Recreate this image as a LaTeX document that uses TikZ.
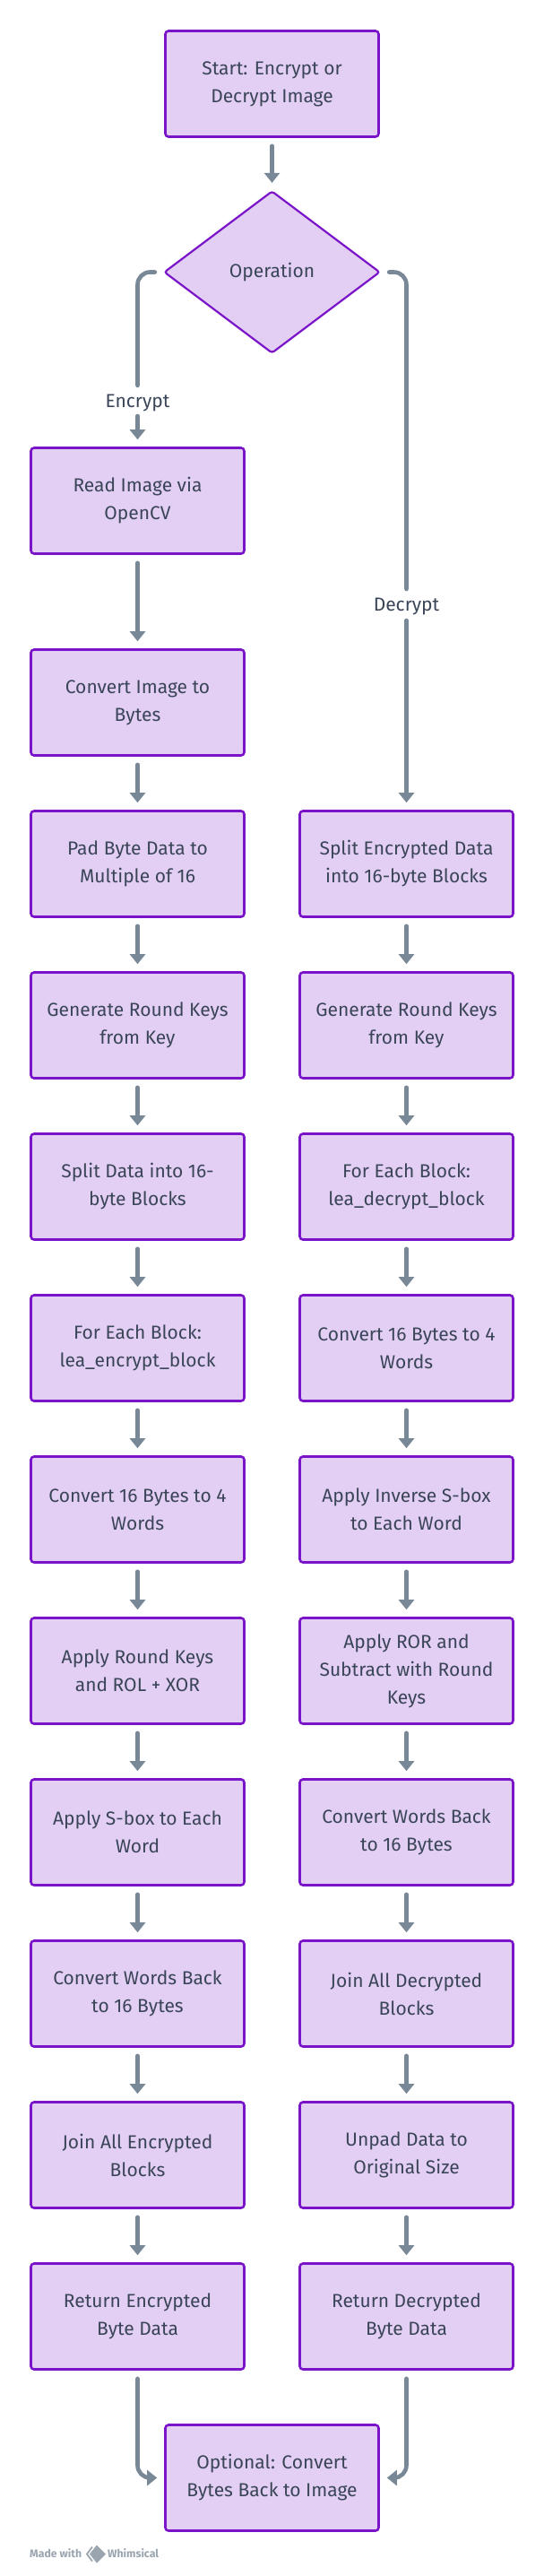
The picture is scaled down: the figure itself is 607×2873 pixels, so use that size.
\documentclass[tikz,border=0pt]{standalone}
\usepackage{fontspec}
\setmainfont{Fira Sans}
\usetikzlibrary{arrows.meta,shapes.geometric}
\definecolor{bfill}{HTML}{E3CFF3}
\definecolor{bline}{HTML}{7A14C8}
\definecolor{btext}{HTML}{3A4558}
\definecolor{conn}{HTML}{788896}
\definecolor{wm}{HTML}{9AA5AF}
\tikzset{
  boxn/.style={draw=bline,fill=bfill,line width=2.6pt,rounded corners=3.5pt,minimum width=238pt,minimum height=118pt,inner sep=0pt,align=center,text=btext,font=\fontsize{21}{31}\selectfont},
  dia/.style={draw=bline,fill=bfill,line width=2.2pt,rounded corners=3pt,diamond,minimum width=241pt,minimum height=181pt,inner sep=0pt,aspect=1.33,text=btext,font=\fontsize{21}{30}\selectfont},
  lab/.style={text=btext,inner sep=0pt,font=\fontsize{21}{30}\selectfont},
  conline/.style={draw=conn,line width=4.6pt,line cap=round,rounded corners=14pt},
  conarrow/.style={conline,-{Triangle[width=17pt,length=11pt,line cap=butt]}},
  vgap/.style={conarrow,shorten <=9pt,shorten >=8pt},
}
\begin{document}
\begin{tikzpicture}[x=1pt,y=-1pt]
\useasboundingbox (0,0) rectangle (607,2873);
\node[boxn] (start) at (303.5,93.5) {Start: Encrypt or\\Decrypt Image};
\node[dia] (op) at (303.5,303.5) {Operation};
\node[boxn] (l1) at (153.5,558.5) {Read Image via\\OpenCV};
\node[boxn] (l2) at (153.5,783.5) {Convert Image to\\Bytes};
\node[boxn] (l3) at (153.5,963.5) {Pad Byte Data to\\Multiple of 16};
\node[boxn] (l4) at (153.5,1143.5) {Generate Round Keys\\from Key};
\node[boxn] (l5) at (153.5,1323.5) {Split Data into 16-\\byte Blocks};
\node[boxn] (l6) at (153.5,1503.5) {For Each Block:\\lea\_encrypt\_block};
\node[boxn] (l7) at (153.5,1683.5) {Convert 16 Bytes to 4\\Words};
\node[boxn] (l8) at (153.5,1863.5) {Apply Round Keys\\and ROL + XOR};
\node[boxn] (l9) at (153.5,2043.5) {Apply S-box to Each\\Word};
\node[boxn] (l10) at (153.5,2223.5) {Convert Words Back\\to 16 Bytes};
\node[boxn] (l11) at (153.5,2403.5) {Join All Encrypted\\Blocks};
\node[boxn] (l12) at (153.5,2583.5) {Return Encrypted\\Byte Data};
\node[boxn] (r1) at (453.5,963.5) {Split Encrypted Data\\into 16-byte Blocks};
\node[boxn] (r2) at (453.5,1143.5) {Generate Round Keys\\from Key};
\node[boxn] (r3) at (453.5,1323.5) {For Each Block:\\lea\_decrypt\_block};
\node[boxn] (r4) at (453.5,1503.5) {Convert 16 Bytes to 4\\Words};
\node[boxn] (r5) at (453.5,1683.5) {Apply Inverse S-box\\to Each Word};
\node[boxn] (r6) at (453.5,1863.5) {Apply ROR and\\Subtract with Round\\Keys};
\node[boxn] (r7) at (453.5,2043.5) {Convert Words Back\\to 16 Bytes};
\node[boxn] (r8) at (453.5,2223.5) {Join All Decrypted\\Blocks};
\node[boxn] (r9) at (453.5,2403.5) {Unpad Data to\\Original Size};
\node[boxn] (r10) at (453.5,2583.5) {Return Decrypted\\Byte Data};
\node[boxn] (end) at (303.5,2763.5) {Optional: Convert\\Bytes Back to Image};
\draw[vgap] (start) -- (op);
\foreach \a/\b in {l1/l2,l2/l3,l3/l4,l4/l5,l5/l6,l6/l7,l7/l8,l8/l9,l9/l10,l10/l11,l11/l12,r1/r2,r2/r3,r3/r4,r4/r5,r5/r6,r6/r7,r7/r8,r8/r9,r9/r10}
  \draw[vgap] (\a) -- (\b);
\node[lab] (enc) at (153.5,449) {Encrypt};
\node[lab] (dec) at (453.5,676) {Decrypt};
\draw[conline,shorten <=9pt] (op.west) -| (153.5,430) coordinate (e1);
\draw[conarrow,shorten >=8pt] (153.5,464) coordinate (e2) -- (l1.north);
\draw[conline,shorten <=9pt] (op.east) -| (453.5,657) coordinate (d1);
\draw[conarrow,shorten >=8pt] (453.5,692) coordinate (d2) -- (r1.north);
\draw[conarrow,shorten <=9pt,shorten >=8pt] (l12.south) |- (end.west);
\draw[conarrow,shorten <=9pt,shorten >=8pt] (r10.south) |- (end.east);
\node[inner sep=0pt,anchor=west,text=wm,font=\fontsize{12.3}{14}\selectfont\bfseries] (made) at (33,2848) {Made with};
\node[inner sep=0pt,anchor=west,text=wm,font=\fontsize{12.3}{14}\selectfont\bfseries] (whim) at (120,2848) {Whimsical};
\fill[wm] (108,2838.5) -- (118,2848.5) -- (108,2858.5) -- (100,2848.5) -- cycle;
\draw[wm,line width=1.8pt] (103,2840.5) -- (97,2848.5) -- (103,2856.5);
\end{tikzpicture}
\end{document}
